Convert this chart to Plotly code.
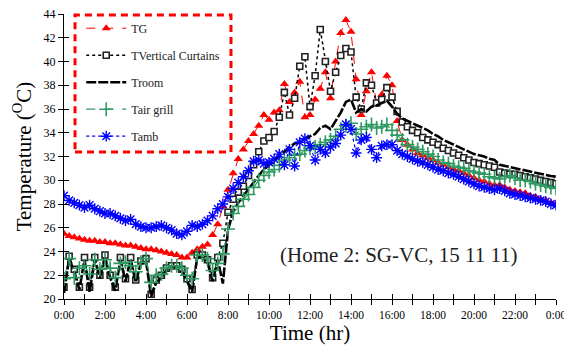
import plotly.graph_objects as go

hours = [i / 4 for i in range(97)]

tick_hours = list(range(25))
tick_labels = ["0:00", "", "2:00", "", "4:00", "", "6:00", "", "8:00", "", "10:00", "",
               "12:00", "", "14:00", "", "16:00", "", "18:00", "", "20:00", "", "22:00", "", "0:00"]

tg = [25.5, 25.3, 25.2, 25.1, 25.0, 24.9, 24.9, 24.8,
      24.8, 24.7, 24.7, 24.6, 24.5, 24.5, 24.4, 24.3,
      24.2, 24.2, 24.1, 24.0, 23.9, 23.8, 23.7, 23.5,
      23.5, 23.9, 24.2, 24.4, 24.6, 25.4, 26.3, 27.8,
      29.2, 30.6, 31.8, 32.6, 33.3, 33.9, 34.6, 35.5,
      35.1, 35.7, 35.9, 38.1, 36.6, 37.4, 38.3, 35.3,
      35.5, 36.8, 37.7, 39.1, 36.9, 40.0, 42.4, 43.5,
      42.5, 38.5, 35.5, 37.5, 39.1, 36.5, 37.2, 38.8,
      38.0, 35.0, 33.4, 33.0, 32.6, 32.3, 32.1, 31.9,
      31.7, 31.5, 31.3, 31.1, 30.9, 30.8, 30.6, 30.4,
      30.2, 30.0, 29.9, 29.7, 29.6, 29.6, 29.4, 29.2,
      29.1, 29.0, 28.9, 28.7, 28.6, 28.4, 28.3, 28.1,
      28.0]

t_curtains = [21.0, 23.6, 22.5, 21.0, 23.5, 21.0, 23.5, 22.0,
              23.7, 22.0, 21.0, 23.5, 21.7, 23.5, 21.6, 23.2,
              23.4, 20.4, 21.6, 22.0, 22.6, 22.8, 22.8, 22.5,
              21.7, 20.8, 23.7, 23.7, 23.3, 21.8, 23.5, 24.7,
              27.3, 28.4, 29.0, 29.5, 30.4, 31.3, 32.4, 33.3,
              33.6, 34.1, 35.3, 37.4, 35.5, 36.9, 39.6, 40.4,
              36.2, 38.8, 42.7, 40.0, 37.5, 39.1, 40.5, 41.1,
              40.8, 37.0, 36.0, 38.2, 38.0, 36.5, 36.8, 37.8,
              37.0, 35.8, 34.9, 34.5, 34.2, 34.0, 33.6, 33.4,
              33.2, 33.0, 32.7, 32.5, 32.3, 32.1, 31.9, 31.7,
              31.5, 31.4, 31.3, 31.2, 31.1, 30.7, 30.6, 30.5,
              30.5, 30.4, 30.3, 30.2, 30.1, 30.0, 29.9, 29.8,
              29.7]

t_room = [20.5, 23.4, 22.3, 20.8, 23.3, 20.6, 23.3, 21.8,
          23.5, 21.8, 20.7, 23.3, 21.5, 23.3, 21.4, 23.0,
          23.2, 20.2, 21.4, 21.8, 22.5, 22.7, 22.7, 22.3,
          21.5, 20.6, 23.5, 23.5, 23.1, 21.5, 23.3, 21.3,
          25.8, 27.4, 28.1, 28.7, 29.2, 29.8, 30.4, 30.9,
          31.3, 31.6, 32.1, 32.4, 32.8, 33.1, 33.2, 33.5,
          33.7, 33.9, 34.4, 34.6, 34.3, 35.0, 35.7, 36.6,
          36.8, 35.7, 36.0, 35.8, 36.2, 36.3, 36.5, 36.7,
          36.2, 35.6, 35.2, 35.0, 34.8, 34.6, 34.4, 34.2,
          33.9, 33.7, 33.4, 33.2, 33.0, 32.8, 32.6, 32.4,
          32.2, 32.1, 32.0, 31.8, 31.7, 31.3, 31.2, 31.1,
          31.0, 30.9, 30.8, 30.7, 30.6, 30.5, 30.4, 30.35,
          30.3]

t_air_grill = [21.7, 23.4, 21.8, 22.6, 22.8, 22.1, 23.3, 22.5,
               23.3, 22.6, 21.8, 23.0, 23.1, 22.8, 22.3, 23.1,
               23.4, 21.4, 22.0, 22.1, 22.6, 22.8, 22.8, 22.6,
               22.0, 21.7, 23.7, 23.7, 23.4, 22.4, 23.0, 23.8,
               25.9, 27.2, 27.8, 28.4, 28.8, 29.4, 30.0, 30.4,
               30.7, 30.9, 31.25, 31.7, 31.9, 32.1, 32.2, 32.5,
               32.7, 32.8, 33.0, 33.2, 33.4, 33.7, 34.3, 34.6,
               34.8, 33.9, 34.3, 34.5, 34.7, 34.4, 34.5, 34.7,
               34.2, 33.8, 33.4, 33.0, 32.8, 32.6, 32.4, 32.2,
               32.0, 31.7, 31.5, 31.4, 31.2, 31.1, 31.0, 30.8,
               30.7, 30.6, 30.5, 30.3, 30.2, 30.1, 30.3, 30.4,
               30.2, 30.0, 30.0, 29.9, 29.7, 29.6, 29.5, 29.4,
               29.3]

t_amb = [28.7, 28.3, 28.1, 27.9, 27.7, 27.9, 27.6, 27.4,
         27.2, 27.2, 27.0, 26.8, 26.6, 26.7, 26.3, 26.1,
         26.0, 26.0, 26.1, 26.2, 26.0, 25.8, 25.5, 25.4,
         25.7, 26.2, 26.1, 26.3, 26.6, 27.0, 27.6, 28.0,
         28.6, 29.3, 29.8, 30.3, 30.8, 31.6, 31.7, 31.4,
         31.5, 31.8, 32.2, 31.3, 32.6, 31.2, 33.2, 33.5,
         32.9, 31.7, 32.6, 32.3, 32.8, 33.1, 33.8, 34.7,
         34.3, 32.3, 33.4, 33.6, 32.6, 31.9, 32.9, 33.0,
         33.0, 32.5, 32.2, 32.0, 31.8, 31.6, 31.5, 31.3,
         31.1, 30.9, 30.8, 30.6, 30.5, 30.3, 30.1, 29.9,
         29.7, 29.5, 29.4, 29.3, 29.2, 29.3, 29.1, 28.9,
         28.8, 28.7, 28.6, 28.5, 28.4, 28.3, 28.2, 28.0,
         27.9]

series_names = ["TG", "TVertical Curtains", "Troom", "Tair grill", "Tamb"]
annotation_text = "(Home 2: SG-VC, 15 11 11)"

RED = "#ff0000"
GREEN = "#2e9a62"
BLUE = "#0000ff"
FONT = "Liberation Serif, Times New Roman, serif"

fig = go.Figure()

fig.add_trace(go.Scatter(
    x=hours, y=tg, name=series_names[0], mode="lines+markers", legendgroup="a",
    line=dict(color=RED, width=1, dash="dash"),
    marker=dict(symbol="triangle-up", size=8, color=RED)))
fig.add_trace(go.Scatter(
    x=hours, y=t_curtains, name=series_names[1], mode="lines+markers", legendgroup="b",
    line=dict(color="black", width=1.5, dash="dot"),
    marker=dict(symbol="square", size=6, color="white", line=dict(color="#222222", width=1.6))))
fig.add_trace(go.Scatter(
    x=hours, y=t_room, name=series_names[2], mode="lines", legendgroup="c",
    line=dict(color="black", width=2.6, dash="10px,2px")))
fig.add_trace(go.Scatter(
    x=hours, y=t_air_grill, name=series_names[3], mode="lines+markers", legendgroup="d",
    line=dict(color=GREEN, width=1.2, dash="dash"),
    marker=dict(symbol="cross-thin-open", size=10, color=GREEN, line=dict(color=GREEN, width=1.6))))
fig.add_trace(go.Scatter(
    x=hours, y=t_amb, name=series_names[4], mode="lines+markers", legendgroup="e",
    line=dict(color=BLUE, width=1.2, dash="dot"),
    marker=dict(symbol="asterisk-open", size=9, color=BLUE, line=dict(color=BLUE, width=1.4))))

# helper trace so the overlay axes (inner halves of the crossing ticks) are drawn
fig.add_trace(go.Scatter(x=[0], y=[20], xaxis="x2", yaxis="y2", mode="markers",
                         marker=dict(opacity=0), showlegend=False, hoverinfo="skip"))

# the page adds an 8 px body margin, so the figure is sized/offset to compensate
fig.update_layout(
    template="none",
    width=564, height=337,
    margin=dict(l=56, r=16, t=6, b=46, autoexpand=False),
    paper_bgcolor="white", plot_bgcolor="white",
    font=dict(family=FONT, color="black", size=12),
    showlegend=True,
    legend=dict(x=0.035, y=1.001, xanchor="left", yanchor="top",
                font=dict(family=FONT, size=12, color="#222222"),
                bgcolor="rgba(0,0,0,0)", borderwidth=0, itemwidth=40,
                traceorder="grouped", tracegroupgap=8),
    xaxis=dict(range=[0, 24], tickmode="array", tickvals=tick_hours, ticktext=tick_labels,
               ticks="outside", ticklen=5, tickwidth=1.2, tickcolor="black", automargin=False,
               ticklabeloverflow="allow",
               showline=True, linecolor="black", linewidth=1.2, showgrid=False, zeroline=False,
               tickfont=dict(family=FONT, size=11.5),
               title=dict(text="Time (hr)", font=dict(family=FONT, size=21), standoff=0)),
    yaxis=dict(range=[20, 44], dtick=2, tick0=20, automargin=False,
               ticklabeloverflow="allow",
               ticks="outside", ticklen=5, tickwidth=1.2, tickcolor="black",
               showline=True, linecolor="black", linewidth=1.2, showgrid=False, zeroline=False,
               tickfont=dict(family=FONT, size=12),
               title=dict(text="Temperature (<sup>O</sup>C)", font=dict(family=FONT, size=21), standoff=6)),
    xaxis2=dict(overlaying="x", anchor="y2", side="bottom", range=[0, 24], automargin=False,
                tickmode="array", tickvals=tick_hours, showticklabels=False,
                ticks="inside", ticklen=5, tickwidth=1.2, tickcolor="black",
                showline=False, showgrid=False, zeroline=False),
    yaxis2=dict(overlaying="y", anchor="x2", side="left", range=[20, 44], dtick=2, tick0=20,
                automargin=False,
                showticklabels=False, ticks="inside", ticklen=5, tickwidth=1.2, tickcolor="black",
                showline=False, showgrid=False, zeroline=False),
    shapes=[dict(type="rect", xref="paper", yref="paper",
                 x0=0.0224, x1=0.3394, y0=0.516, y1=0.9965,
                 line=dict(color=RED, width=3, dash="7px,5px"), fillcolor="rgba(0,0,0,0)")],
    annotations=[dict(text=annotation_text, xref="paper", yref="paper",
                      x=0.68, y=0.155, xanchor="center", yanchor="middle", showarrow=False,
                      font=dict(family=FONT, size=21, color="#222222"))],
)

fig.write_html("out.html")
